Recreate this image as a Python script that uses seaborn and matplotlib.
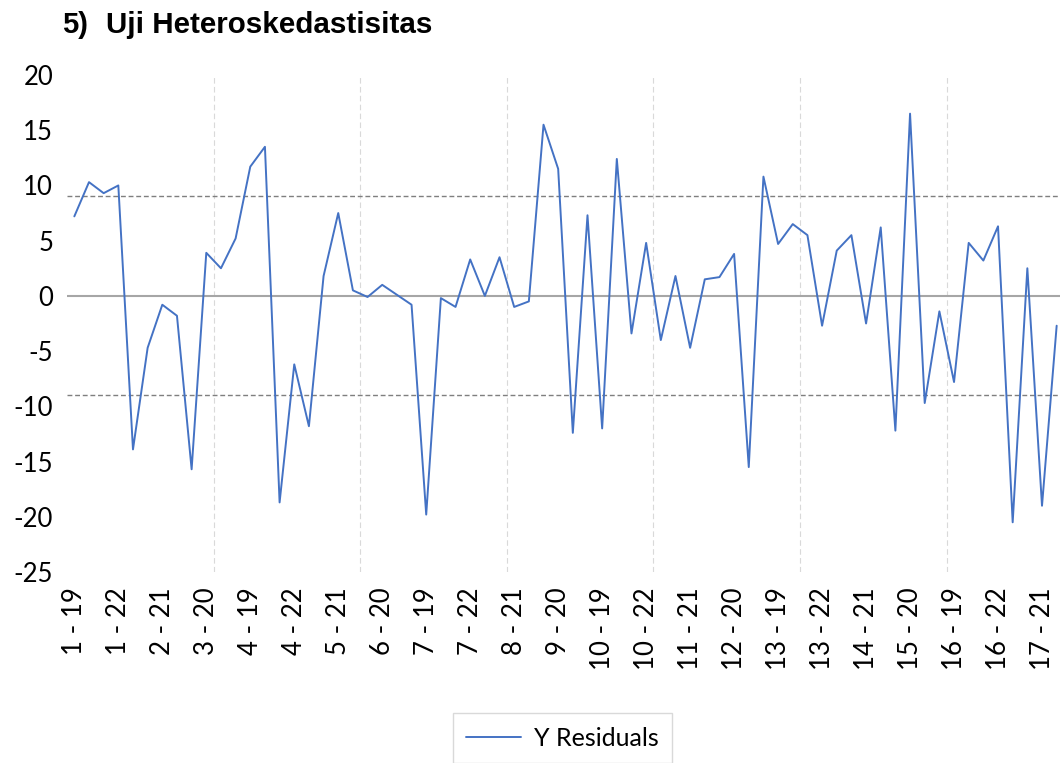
import pandas as pd
import matplotlib
matplotlib.use("Agg")
import matplotlib.pyplot as plt
import seaborn as sns

# Data
units = list(range(1, 18))
years = [19, 20, 21, 22]
categories = [f"{u} - {y}" for u in units for y in years]
resid = [7.2, 10.3, 9.3, 10.0, -13.9, -4.7, -0.8, -1.8, -15.7, 3.9,
         2.5, 5.2, 11.7, 13.5, -18.7, -6.2, -11.8, 1.8, 7.5, 0.5,
         -0.1, 1.0, 0.1, -0.8, -19.8, -0.2, -1.0, 3.3, 0.0, 3.5,
         -1.0, -0.5, 15.5, 11.5, -12.4, 7.3, -12.0, 12.4, -3.4, 4.8,
         -4.0, 1.8, -4.7, 1.5, 1.7, 3.8, -15.5, 10.8, 4.7, 6.5,
         5.5, -2.7, 4.1, 5.5, -2.5, 6.2, -12.2, 16.5, -9.7, -1.4,
         -7.8, 4.8, 3.2, 6.3, -20.5, 2.5, -19.0, -2.7]
limits = [9, -9]
yticks = [20, 15, 10, 5, 0, -5, -10, -15, -20, -25]

df = pd.DataFrame({"label": categories, "resid": resid})

sns.set_style("white")
plt.rcParams["font.family"] = ["Lato", "DejaVu Sans"]
plt.rcParams["text.color"] = "black"
plt.rcParams["xtick.color"] = "black"
plt.rcParams["ytick.color"] = "black"

W, H = 1060, 763
fig = plt.figure(figsize=(W / 100, H / 100), dpi=100)
ax = fig.add_axes([67 / W, 191 / H, 997 / W, 497 / H])

# Light vertical gridlines every 10 categories
for k in range(10, len(categories), 10):
    ax.axvline(k - 0.5, color="#D9D9D9", lw=0.8, dashes=(5, 3), zorder=0)

# Zero axis line and limit lines
ax.axhline(0, color="#A6A6A6", lw=1.5, zorder=1)
for lim in limits:
    ax.axhline(lim, color="#7F7F7F", lw=1.0, dashes=(3.5, 2), zorder=1)

sns.lineplot(data=df, x="label", y="resid", sort=False, estimator=None,
             color="#4472C4", lw=1.4, ax=ax, label="Y Residuals", zorder=3)

ax.set_xlim(-0.5, len(categories) - 0.5)
ax.set_ylim(-25, 20)
ax.set_yticks(yticks)
ax.set_yticklabels([str(t) for t in yticks])
ax.set_xticks(range(0, len(categories), 3))
ax.set_xticklabels(categories[::3], rotation=90)
ax.tick_params(axis="y", length=0, pad=10, labelsize=18.5, labelcolor="black")
ax.tick_params(axis="x", length=0, pad=11, labelsize=18.5, labelcolor="black")
ax.set_xlabel("")
ax.set_ylabel("")
for s in ax.spines.values():
    s.set_visible(False)

leg = ax.legend(loc="center", bbox_to_anchor=(562.5 / W, 25 / H),
                bbox_transform=fig.transFigure, fontsize=18, frameon=True,
                fancybox=False, framealpha=1, edgecolor="#D9D9D9",
                handlelength=2.2, handletextpad=0.5, borderpad=0.55)
leg.get_frame().set_linewidth(1.0)
for t in leg.get_texts():
    t.set_color("black")

# Title
fig.text(61.7 / W, 1 - 33.3 / H, "5)", fontsize=21, fontweight="bold",
         family="Liberation Sans", color="black", va="baseline", ha="left")
fig.text(106 / W, 1 - 33.3 / H, "Uji Heteroskedastisitas", fontsize=21.3,
         fontweight="bold", family="Liberation Sans", color="black",
         va="baseline", ha="left")

fig.savefig("out.png", dpi=100)
